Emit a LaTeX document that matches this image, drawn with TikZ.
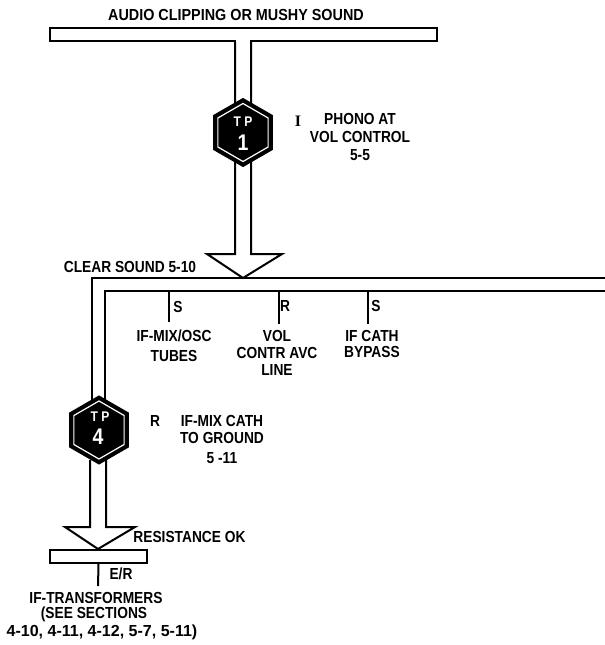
\documentclass[tikz,border=0pt]{standalone}
\usepackage{fontspec}
\setmainfont[FakeStretch=0.86,UprightFont=* Bold]{Liberation Sans}
\newfontfamily\serifI[UprightFont=* Bold]{Liberation Serif}
\usetikzlibrary{shapes.geometric,calc}
\tikzset{
  x=0.75pt,y=-0.75pt,
  lbl/.style={inner sep=0pt,align=center,font=\fontsize{12}{12}\selectfont,text=black},
  barbox/.style={draw=black,line width=1.5pt,fill=white,minimum height=9.75pt,inner sep=0pt,rectangle},
  wire/.style={draw=black,line width=1.5pt},
  thin wire/.style={draw=black,line width=1.2pt},
  tphex/.style={regular polygon,regular polygon sides=6,shape border rotate=30,draw=black,fill=black,line width=1.2pt,minimum size=50.5pt,inner sep=0pt},
  tphexin/.style={regular polygon,regular polygon sides=6,shape border rotate=30,draw=white,line width=0.9pt,minimum size=43.5pt,inner sep=0pt},
  tptext/.style={inner sep=0pt,text=white,font=\fontsize{10.5}{10}\selectfont},
  tpnum/.style={inner sep=0pt,text=white,font=\fontsize{17}{17}\selectfont},
}
\begin{document}
\begin{tikzpicture}
\useasboundingbox (0,0) rectangle (605,645);
\coordinate (tiptop) at (243,278);
\coordinate (tipbot) at (98,549);
\coordinate (endA) at (605,278);
\coordinate (endB) at (605,291);

% top bar
\node[barbox,minimum width=290.25pt] (topbar) at (243.5,34.5) {};
% stem and arrowhead 1
\coordinate (s1l) at (235,41);
\coordinate (s1r) at (251,41);
\draw[wire] (s1l) -- (235,254) -- (207,254) -- (tiptop) -- (282,254) -- (251,254) -- (s1r);
\fill[white] (236,33) rectangle (250,42.5);
% horizontal channel
\draw[thin wire] (endA) -- (92,278) -- (92,400);
\draw[wire] (endB) -- (105,291) -- (105,400);
% TP1
\node[tphex] (tp1) at (243,132.5) {};
\node[tphexin] (tp1in) at (tp1) {};
\node[tptext] (tp1a) at (243,122) {T P};
\node[tpnum] (tp1b) at (243,143) {1};
% TP4
\coordinate (s4l) at (90,460);
\coordinate (s4r) at (106,460);
\draw[wire] (s4l) -- (90,527) -- (65,527) -- (tipbot) -- (135,527) -- (106,527) -- (s4r);
\node[tphex] (tp4) at (99,430) {};
\node[tphexin] (tp4in) at (tp4) {};
\node[tptext] (tp4a) at (100,417) {T P};
\node[tpnum] (tp4b) at (98,437) {4};
% bottom bar
\node[barbox,minimum width=72.5pt] (botbar) at (98.5,556.5) {};
% ticks
\node[inner sep=0pt] (t1) at (169,323) {};
\node[inner sep=0pt] (t2) at (279,325) {};
\node[inner sep=0pt] (t3) at (368,325) {};
\node[inner sep=0pt] (t4) at (98,587) {};
\draw[wire] (169,291) -- (t1);
\draw[wire] (279,291) -- (t2);
\draw[wire] (368,291) -- (t3);
\draw[wire] (botbar.south) -- (t4);
% labels
\node[lbl] (title) at (236,15) {\scalebox{1.045}[1]{AUDIO CLIPPING OR MUSHY SOUND}};
\node[lbl] (i1) at (298,121) {\serifI I};
\node[lbl] (ph) at (360,137) {PHONO AT\\[1.5pt]VOL CONTROL\\[1.5pt]5-5};
\node[lbl] (clr) at (130,267) {CLEAR SOUND 5-10};
\node[lbl] (s1) at (178,307) {S};
\node[lbl] (r1) at (285,306) {R};
\node[lbl] (s2) at (376,306) {S};
\node[lbl] (mix) at (174,346) {IF-MIX/OSC\\[3pt]TUBES};
\node[lbl] (vol) at (277,353) {VOL\\[0.75pt]CONTR AVC\\[0.75pt]LINE};
\node[lbl] (cath) at (372,344) {IF CATH\\[0pt]BYPASS};
\node[lbl] (r2) at (155,421) {R};
\node[lbl] (if) at (222,439) {IF-MIX CATH\\[0.75pt]TO GROUND\\[3pt]5 -11};
\node[lbl] (ok) at (189.5,537) {RESISTANCE OK};
\node[lbl] (er) at (121,574) {E/R};
\node[lbl] (tr1) at (96,598) {IF-TRANSFORMERS};
\node[lbl] (tr2) at (94,614) {(SEE SECTIONS};
\node[lbl] (tr3) at (102,632) {\scalebox{1.165}[1]{4-10, 4-11, 4-12, 5-7, 5-11)}};
\end{tikzpicture}
\end{document}
